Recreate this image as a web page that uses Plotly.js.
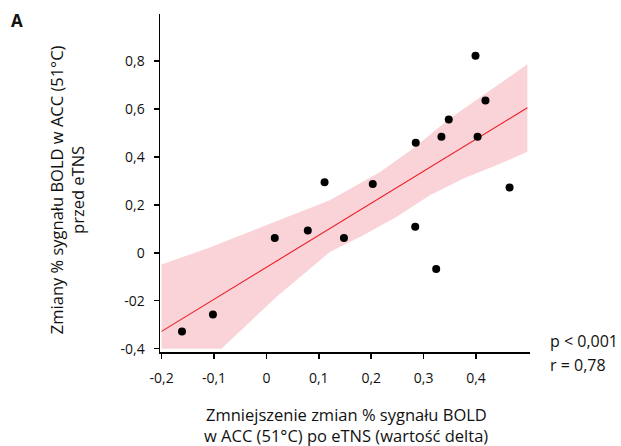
<!DOCTYPE html>
<html>
<head>
<meta charset="utf-8">
<script src="https://cdn.plot.ly/plotly-3.0.1.min.js"></script>
<style>
html, body { margin: 0; padding: 0; background: #fff; }
#chart { width: 621px; height: 446px; }
</style>
</head>
<body>
<div id="chart"></div>
<script>
// Data
const pointsX = [-0.161, -0.102, 0.016, 0.079, 0.148, 0.284, 0.324, 0.111, 0.203, 0.285, 0.334, 0.348, 0.399, 0.418, 0.403, 0.464];
const pointsY = [-0.328, -0.258, 0.062, 0.093, 0.062, 0.109, -0.068, 0.294, 0.287, 0.459, 0.484, 0.556, 0.822, 0.635, 0.484, 0.272];

const fitX = [-0.200, 0.498];
const fitY = [-0.328, 0.605];

const bandUpperX = [-0.200, -0.108, 0.026, 0.064, 0.121, 0.217, 0.280, 0.350, 0.420, 0.498];
const bandUpperY = [-0.049, 0.022, 0.136, 0.170, 0.219, 0.337, 0.435, 0.560, 0.665, 0.786];
const bandLowerX = [-0.200, -0.086, 0.019, 0.121, 0.185, 0.248, 0.312, 0.376, 0.439, 0.498];
const bandLowerY = [-0.400, -0.400, -0.185, 0.003, 0.073, 0.149, 0.240, 0.310, 0.365, 0.421];

const xTickVals = [-0.2, -0.1, 0, 0.1, 0.2, 0.3, 0.4];
const xTickText = ['-0,2', '-0,1', '0', '0,1', '0,2', '0,3', '0,4'];
const yTickVals = [-0.4, -0.2, 0, 0.2, 0.4, 0.6, 0.8];
const yTickText = ['-0,4', '-02', '0', '0,2', '0,4', '0,6', '0,8'];

const xTitleLines = ['Zmniejszenie zmian % sygnału BOLD', 'w ACC (51°C) po eTNS (wartość delta)'];
const yTitleLines = ['Zmiany % sygnału BOLD w ACC (51°C)', 'przed eTNS'];
const pText = 'p < 0,001';
const rText = 'r = 0,78';
const panelLabel = 'A';

const FONT = 'Open Sans, Noto Sans, sans-serif';
const TXT = '#111';

const bandX = bandLowerX.concat(bandUpperX.slice().reverse());
const bandY = bandLowerY.concat(bandUpperY.slice().reverse());

const traces = [
  {
    x: bandX, y: bandY, type: 'scatter', mode: 'lines',
    fill: 'toself', fillcolor: 'rgba(249,211,215,1)',
    line: { width: 0, color: 'rgba(0,0,0,0)' }, hoverinfo: 'skip', showlegend: false
  },
  {
    x: fitX, y: fitY, type: 'scatter', mode: 'lines',
    line: { color: '#ec1c24', width: 1.1 }, showlegend: false
  },
  {
    x: pointsX, y: pointsY, type: 'scatter', mode: 'markers',
    marker: { color: '#000', size: 8 }, showlegend: false, cliponaxis: false
  }
];

const xLineCenters = [414, 435.5];

const layout = {
  width: 621, height: 446,
  margin: { l: 160, r: 91, t: 14, b: 94 },
  paper_bgcolor: '#fff', plot_bgcolor: '#fff',
  font: { family: FONT, size: 14, color: TXT },
  showlegend: false,
  xaxis: {
    range: [-0.203, 0.503], showgrid: false, zeroline: false,
    showline: true, linecolor: '#000', linewidth: 1.5,
    ticks: 'outside', ticklen: 5, tickwidth: 1.5, tickcolor: '#000',
    tickvals: xTickVals, ticktext: xTickText, ticklabelstandoff: 8,
    tickfont: { family: FONT, size: 14, color: TXT }
  },
  yaxis: {
    range: [-0.414, 0.996], showgrid: false, zeroline: false,
    showline: true, linecolor: '#000', linewidth: 1.5,
    ticks: 'outside', ticklen: 5, tickwidth: 1.5, tickcolor: '#000',
    tickvals: yTickVals, ticktext: yTickText, ticklabelstandoff: 6,
    tickfont: { family: FONT, size: 14, color: TXT }
  },
  annotations: xTitleLines.map((t, i) => ({
      xref: 'paper', yref: 'paper', x: (346 - 160) / 370, y: 0, yshift: -(xLineCenters[i] - 351.7),
      xanchor: 'center', yanchor: 'middle', showarrow: false,
      text: t, font: { family: FONT, size: 16.5, color: TXT } })).concat([
    { xref: 'paper', yref: 'paper', x: 0, xshift: -(160 - 67), y: (351.7 - 190) / 337.7,
      xanchor: 'center', yanchor: 'middle', showarrow: false, textangle: -90,
      text: yTitleLines.join('<br>'), font: { family: FONT, size: 16.5, color: TXT } },
    { xref: 'paper', yref: 'paper', x: 0, xshift: 548 - 160, y: 0, yshift: 351.7 - 341,
      xanchor: 'left', yanchor: 'middle', showarrow: false, align: 'left',
      text: pText, font: { family: FONT, size: 16, color: TXT } },
    { xref: 'paper', yref: 'paper', x: 0, xshift: 548 - 160, y: 0, yshift: 351.7 - 365,
      xanchor: 'left', yanchor: 'middle', showarrow: false, align: 'left',
      text: rText, font: { family: FONT, size: 16, color: TXT } },
    { xref: 'paper', yref: 'paper', x: 0, xshift: 9 - 160, y: 1, yshift: 14 - 20,
      xanchor: 'left', yanchor: 'middle', showarrow: false,
      text: '<b>' + panelLabel + '</b>', font: { family: FONT, size: 17, color: TXT } }
  ])
};

Plotly.newPlot('chart', traces, layout, { displayModeBar: false, staticPlot: true });
</script>
</body>
</html>
